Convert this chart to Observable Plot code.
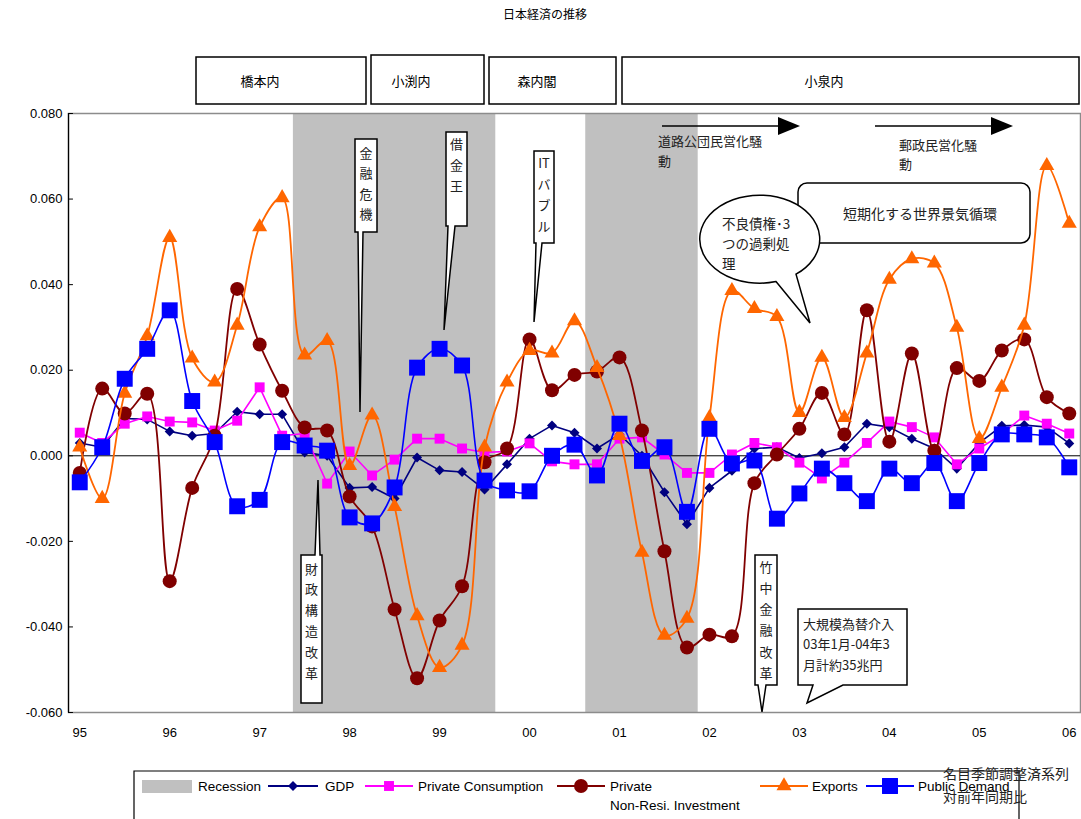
<!DOCTYPE html>
<html><head><meta charset="utf-8">
<script src="https://cdn.jsdelivr.net/npm/d3@7"></script>
<script src="https://cdn.jsdelivr.net/npm/@observablehq/plot@0.6"></script>
<style>body{margin:0;background:#fff}svg{display:block}</style>
</head><body><div id="chart"></div>
<script>
// ---------- data ----------
const yearLabels = ["95","96","97","98","99","00","01","02","03","04","05","06"];
const yTicks = [-0.06,-0.04,-0.02,0,0.02,0.04,0.06,0.08];
const yTickLabels = ["-0.060","-0.040","-0.020","0.000","0.020","0.040","0.060","0.080"];

// quarterly, 95Q1 .. 06Q1 (45 quarters)
const recession = [0,0,0,0,0,0,0,0,0,0, 1,1,1,1,1,1,1,1,1, 0,0,0,0, 1,1,1,1,1, 0,0,0,0,0,0,0,0,0,0,0,0,0,0,0,0,0];
const gdp = [0.0030,0.0020,0.0087,0.0085,0.0057,0.0047,0.0052,0.0103,0.0097,0.0097,
             0.0008,0.0000,-0.0075,-0.0073,-0.0100,-0.0004,-0.0034,-0.0038,-0.0079,-0.0020,
             0.0040,0.0071,0.0054,0.0017,0.0050,0.0000,-0.0085,-0.0160,-0.0075,-0.0035,
             0.0017,0.0020,-0.0005,0.0006,0.0020,0.0075,0.0067,0.0040,0.0017,-0.0030,
             0.0030,0.0070,0.0072,0.0067,0.0029];
const privateConsumption = [0.0054,0.0030,0.0075,0.0092,0.0080,0.0078,0.0059,0.0082,0.0160,0.0047,
             0.0052,-0.0065,0.0010,-0.0046,-0.0009,0.0040,0.0040,0.0017,0.0008,0.0010,
             0.0029,-0.0013,-0.0020,-0.0020,0.0040,0.0043,0.0003,-0.0040,-0.0040,0.0003,
             0.0030,0.0020,-0.0016,-0.0053,-0.0016,0.0030,0.0080,0.0067,0.0043,-0.0020,
             0.0017,0.0050,0.0094,0.0075,0.0052];
const privateInvestment = [-0.0040,0.0157,0.0099,0.0145,-0.0293,-0.0075,0.0047,0.0390,0.0260,0.0152,
             0.0066,0.0059,-0.0095,-0.0165,-0.0359,-0.0520,-0.0385,-0.0305,-0.0015,0.0017,
             0.0272,0.0153,0.0189,0.0197,0.0230,0.0059,-0.0223,-0.0448,-0.0418,-0.0422,
             -0.0064,0.0003,0.0063,0.0147,0.0050,0.0340,0.0033,0.0239,0.0012,0.0205,
             0.0175,0.0246,0.0272,0.0137,0.0099];
const exportsS = [0.0020,-0.0100,0.0146,0.0280,0.0510,0.0228,0.0172,0.0305,0.0535,0.0603,
             0.0235,0.0269,-0.0023,0.0095,-0.0119,-0.0374,-0.0495,-0.0443,0.0020,0.0172,
             0.0246,0.0240,0.0315,0.0206,0.0047,-0.0226,-0.0420,-0.0380,0.0089,0.0386,
             0.0344,0.0325,0.0101,0.0230,0.0089,0.0240,0.0412,0.0460,0.0450,0.0300,
             0.0040,0.0160,0.0305,0.0678,0.0543];
const publicDemand = [-0.0062,0.0020,0.0180,0.0250,0.0340,0.0128,0.0032,-0.0118,-0.0103,0.0032,
             0.0024,0.0012,-0.0144,-0.0158,-0.0074,0.0206,0.0250,0.0211,-0.0058,-0.0081,
             -0.0083,0.0000,0.0026,-0.0046,0.0075,-0.0012,0.0020,-0.0131,0.0063,-0.0018,
             -0.0011,-0.0147,-0.0088,-0.0030,-0.0064,-0.0106,-0.0030,-0.0064,-0.0017,-0.0106,
             -0.0017,0.0050,0.0050,0.0043,-0.0027];

// ---------- styles ----------
const diamond = {draw(ctx, size){ const h = Math.sqrt(size/2); ctx.moveTo(0,-h); ctx.lineTo(h,0); ctx.lineTo(0,h); ctx.lineTo(-h,0); ctx.closePath(); }};
const series = [
  {name:"GDP", values:gdp, color:"#000080", symbol:diamond, r:4.0, curve:"linear", sw:1.6},
  {name:"Private Consumption", values:privateConsumption, color:"#FF00FF", symbol:"square", r:5.6, curve:"linear", sw:1.6},
  {name:"Private Non-Resi. Investment", values:privateInvestment, color:"#800000", symbol:"circle", r:7, curve:"catmull-rom", sw:1.8},
  {name:"Exports", values:exportsS, color:"#FF6600", symbol:"triangle", r:5.6, curve:"catmull-rom", sw:1.8},
  {name:"Public Demand", values:publicDemand, color:"#0000FF", symbol:"square", r:9, curve:"catmull-rom", sw:1.6}
];
// contiguous recession spans from the quarterly flags
const recSpans = [];
recession.forEach((v,i)=>{
  if (!v) return;
  const last = recSpans[recSpans.length-1];
  if (last && last.end === i-1) last.end = i; else recSpans.push({start:i, end:i});
});
const FONT = "'Liberation Sans', Arial, sans-serif";
const CJK = "'Noto Sans CJK JP', sans-serif";

const marks = [
  Plot.rect(recSpans, {x1: d=>d.start-0.5, x2: d=>d.end+0.5, y1: ()=>yTicks[0], y2: ()=>yTicks[yTicks.length-1], fill:"#C0C0C0"}),
  Plot.frame({stroke:"#8c8c8c", strokeWidth:1.5}),
  Plot.ruleY([0], {stroke:"#000", strokeWidth:1}),
  Plot.ruleX([-0.5], {stroke:"#000", strokeWidth:1.2}),
  Plot.ruleY(yTicks, {x1: ()=>-0.5, x2: ()=>-0.28, stroke:"#000"}),
  Plot.axisY({ticks: yTicks, tickFormat: (d)=>yTickLabels[yTicks.indexOf(d)], tickSize:0, tickPadding:6, fontSize:13, fontFamily:FONT, fill:"#000", label:null}),
  Plot.axisX({ticks: yearLabels.map((_,k)=>k*4), tickFormat: (d)=>yearLabels[d/4], tickSize:0, tickPadding:15, fontSize:13, fontFamily:FONT, fill:"#000", label:null})
];
for (const s of series) {
  const rows = s.values.map((v,i)=>({i,v}));
  marks.push(Plot.line(rows, {x:"i", y:"v", stroke:s.color, strokeWidth:s.sw, curve:s.curve}));
  marks.push(Plot.dot(rows, {x:"i", y:"v", fill:s.color, stroke:"none", symbol:()=>s.symbol, r:s.r}));
}

const chart = Plot.plot({
  width:1081, height:819, marginLeft:68, marginRight:1, marginTop:113, marginBottom:107,
  x:{domain:[-0.5,44.5], label:null},
  y:{domain:[yTicks[0], yTicks[yTicks.length-1]], label:null},
  symbol:{type:"identity"},
  style:{background:"#fff", fontFamily:FONT, overflow:"visible"},
  marks
});
document.getElementById("chart").append(chart);

// ---------- annotations ----------
const svg = d3.select(chart);
const g = svg.append("g").attr("text-anchor","start");

g.append("text").attr("x",545).attr("y",13).attr("text-anchor","middle").attr("dominant-baseline","central")
  .attr("font-family",CJK).attr("font-size",12).text("日本経済の推移");

const cabinets = [
  {t:"橋本内", x1:196, x2:366, y1:57, tx:260},
  {t:"小渕内", x1:371, x2:484, y1:55, tx:411},
  {t:"森内閣", x1:489, x2:616, y1:57, tx:537},
  {t:"小泉内", x1:622, x2:1079, y1:57, tx:824}
];
for (const c of cabinets) {
  g.append("rect").attr("x",c.x1).attr("y",c.y1).attr("width",c.x2-c.x1).attr("height",104-c.y1)
    .attr("fill","#fff").attr("stroke","#000").attr("stroke-width",1.5);
  g.append("text").attr("x",c.tx).attr("y",80).attr("text-anchor","middle").attr("dominant-baseline","central")
    .attr("font-family",CJK).attr("font-size",13).text(c.t);
}

function vCallout(o){
  let p;
  if (o.dir==="down") p = `M${o.x1},${o.y1}H${o.x2}V${o.y2}H${o.b2}L${o.tx},${o.ty}L${o.b1},${o.y2}H${o.x1}Z`;
  else p = `M${o.x1},${o.y1}H${o.b1}L${o.tx},${o.ty}L${o.b2},${o.y1}H${o.x2}V${o.y2}H${o.x1}Z`;
  g.append("path").attr("d",p).attr("fill","#fff").attr("stroke","#000").attr("stroke-width",1.5);
  o.chars.forEach((ch,k)=>{
    g.append("text").attr("x",(o.x1+o.x2)/2).attr("y",o.c0+k*o.step).attr("text-anchor","middle")
      .attr("dominant-baseline","central").attr("font-family",CJK).attr("font-size",13).attr("fill","#222").text(ch);
  });
}
vCallout({x1:355,x2:377,y1:139,y2:232,dir:"down",b1:358,b2:363,tx:360,ty:412,chars:["金","融","危","機"],c0:152,step:20.5});
vCallout({x1:446,x2:467,y1:132,y2:226,dir:"down",b1:448,b2:455,tx:444,ty:330,chars:["借","金","王"],c0:143,step:21});
vCallout({x1:534,x2:554,y1:151,y2:243,dir:"down",b1:536,b2:542,tx:534,ty:322,chars:["IT","バ","ブ","ル"],c0:162,step:21});
vCallout({x1:301,x2:322,y1:555,y2:703,dir:"up",b1:315,b2:320,tx:318,ty:480,chars:["財","政","構","造","改","革"],c0:568,step:20.8});
vCallout({x1:755,x2:777,y1:555,y2:685,dir:"down",b1:758,b2:766,tx:762,ty:712,chars:["竹","中","金","融","改","革"],c0:566,step:21.3});

function arrow(x1,x2,y){
  g.append("line").attr("x1",x1).attr("x2",x2-20).attr("y1",y).attr("y2",y).attr("stroke","#000").attr("stroke-width",1.5);
  g.append("path").attr("d",`M${x2-22},${y-9}L${x2},${y}L${x2-22},${y+9}Z`).attr("fill","#000");
}
arrow(662,800,126);
arrow(875,1013,126);
function lines(arr, x, y0, step, size, anchor="start"){
  arr.forEach((t,k)=>g.append("text").attr("x",x).attr("y",y0+k*step).attr("text-anchor",anchor)
    .attr("dominant-baseline","central").attr("font-family",CJK).attr("font-size",size).attr("fill","#222").text(t));
}
lines(["道路公団民営化騒","動"],658,140,20,13);
lines(["郵政民営化騒","動"],899,144,19,13);

// rounded box
g.append("rect").attr("x",798).attr("y",183).attr("width",232).attr("height",60).attr("rx",9)
  .attr("fill","#fff").attr("stroke","#000").attr("stroke-width",1.5);
lines(["短期化する世界景気循環"],920,213,0,14,"middle");

// ellipse callout
g.append("path").attr("d","M776,281.5L810,323L796,274.2A60,44 0 1 0 776,281.5Z")
  .attr("fill","#fff").attr("stroke","#000").attr("stroke-width",1.5);
lines(["不良債権･3","つの過剰処","理"],722,223,20,13.5);

// intervention box
g.append("path").attr("d","M798,609H907V685H843L807,703L813,685H798Z")
  .attr("fill","#fff").attr("stroke","#000").attr("stroke-width",1.5);
lines(["大規模為替介入","03年1月-04年3","月計約35兆円"],803,623,20.5,13);

// ---------- legend ----------
const lg = g.append("g");
lg.append("path").attr("d","M134,819V771H1019V819").attr("fill","none").attr("stroke","#000").attr("stroke-width",1.2);
lg.append("rect").attr("x",142).attr("y",780).attr("width",50).attr("height",13).attr("fill","#C0C0C0");
function ltext(t,x,y){ lg.append("text").attr("x",x).attr("y",y).attr("text-anchor","start").attr("dominant-baseline","central").attr("font-family",FONT).attr("font-size",13.5).attr("fill","#000").text(t); }
ltext("Recession",198,786);
const legPos = [
  {x1:268,x2:318,tx:325},
  {x1:365,x2:413,tx:418},
  {x1:557,x2:605,tx:610},
  {x1:760,x2:808,tx:812},
  {x1:866,x2:914,tx:918}
];
const legLabels = [["GDP"],["Private Consumption"],["Private","Non-Resi. Investment"],["Exports"],["Public Demand"]];
series.forEach((s,k)=>{
  const p = legPos[k];
  lg.append("line").attr("x1",p.x1).attr("x2",p.x2).attr("y1",786).attr("y2",786).attr("stroke",s.color).attr("stroke-width",2);
  const sym = typeof s.symbol === "string" ? {circle:d3.symbolCircle,square:d3.symbolSquare,triangle:d3.symbolTriangle}[s.symbol] : s.symbol;
  lg.append("path").attr("d",d3.symbol(sym, Math.PI*s.r*s.r)()).attr("transform",`translate(${(p.x1+p.x2)/2},786)`).attr("fill",s.color);
  legLabels[k].forEach((t,j)=>ltext(t,p.tx,786+j*19));
});
lines(["名目季節調整済系列","対前年同期比"],943,773,23,14);
</script>
</body></html>
